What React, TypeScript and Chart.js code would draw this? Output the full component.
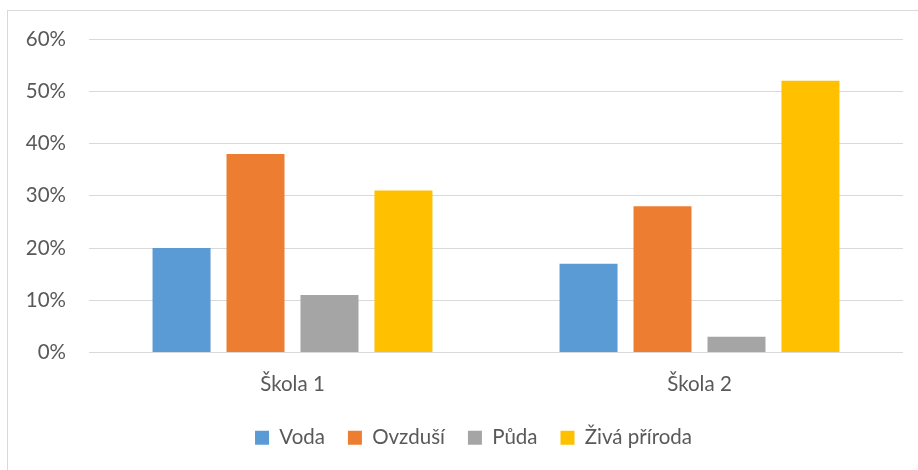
import React, { useEffect, useRef } from "react";
import { Chart, registerables } from "chart.js";

Chart.register(...registerables);

const categories = ["Škola 1", "Škola 2"];
const seriesNames = ["Voda", "Ovzduší", "Půda", "Živá příroda"];
const voda = [20, 17];
const ovzdusi = [38, 28];
const puda = [11, 3];
const zivaPriroda = [31, 52];
const colors = ["#5B9BD5", "#ED7D31", "#A5A5A5", "#FFC000"];
const yTicks = [0, 10, 20, 30, 40, 50, 60];

const FONT = "Lato, 'Open Sans', sans-serif";
const TEXT = "#595959";

const frame = {
  id: "frame",
  beforeDraw(chart: any) {
    const ctx = chart.ctx;
    ctx.save();
    ctx.fillStyle = "#ffffff";
    ctx.fillRect(0, 0, chart.width, chart.height);
    ctx.strokeStyle = "#d9d9d9";
    ctx.lineWidth = 1;
    ctx.strokeRect(7.5, 10.5, chart.width + 10, chart.height + 10);
    ctx.restore();
  },
  afterLayout(chart: any) {
    if (chart.legend) {
      chart.legend.left = 44;
    }
  },
};

export default function App() {
  const ref = useRef<HTMLCanvasElement>(null);
  useEffect(() => {
    if (!ref.current) return;
    const data = [voda, ovzdusi, puda, zivaPriroda];
    const chart = new Chart(ref.current, {
      type: "bar",
      data: {
        labels: categories,
        datasets: seriesNames.map((n, i) => ({
          label: n,
          data: data[i],
          backgroundColor: colors[i],
          borderColor: "#ffffff",
          borderWidth: 0,
          barPercentage: 0.784,
          categoryPercentage: 0.727,
        })),
      },
      options: {
        animation: false,
        responsive: false,
        maintainAspectRatio: false,
        layout: { padding: { top: 39, right: 15, bottom: 12, left: 0 } },
        plugins: {
          tooltip: { enabled: false },
          legend: {
            position: "bottom",
            labels: {
              boxWidth: 14,
              boxHeight: 14,
              padding: 23,
              color: TEXT,
              font: { family: FONT, size: 20.5 },
            },
          },
        },
        scales: {
          x: {
            grid: { display: false, drawTicks: false },
            border: { display: false },
            ticks: { color: TEXT, font: { family: FONT, size: 20.5 }, padding: 20 },
            afterFit: (s: any) => {
              s.height = 52;
            },
          },
          y: {
            min: 0,
            max: 60,
            afterBuildTicks: (s: any) => {
              s.ticks = yTicks.map((v) => ({ value: v }));
            },
            grid: { color: "#d9d9d9", lineWidth: 1, drawTicks: false },
            border: { display: false },
            ticks: {
              color: TEXT,
              font: { family: FONT, size: 20.5 },
              padding: 23,
              callback: (v: any) => v + "%",
            },
            afterFit: (s: any) => {
              s.width = 89;
            },
          },
        },
      } as any,
      plugins: [frame],
    });
    return () => chart.destroy();
  }, []);
  return (
    <div style={{ position: "fixed", left: 0, top: 0, width: 918, height: 470, background: "#fff" }}>
      <canvas ref={ref} width={918} height={470} style={{ width: 918, height: 470, display: "block" }} />
    </div>
  );
}
